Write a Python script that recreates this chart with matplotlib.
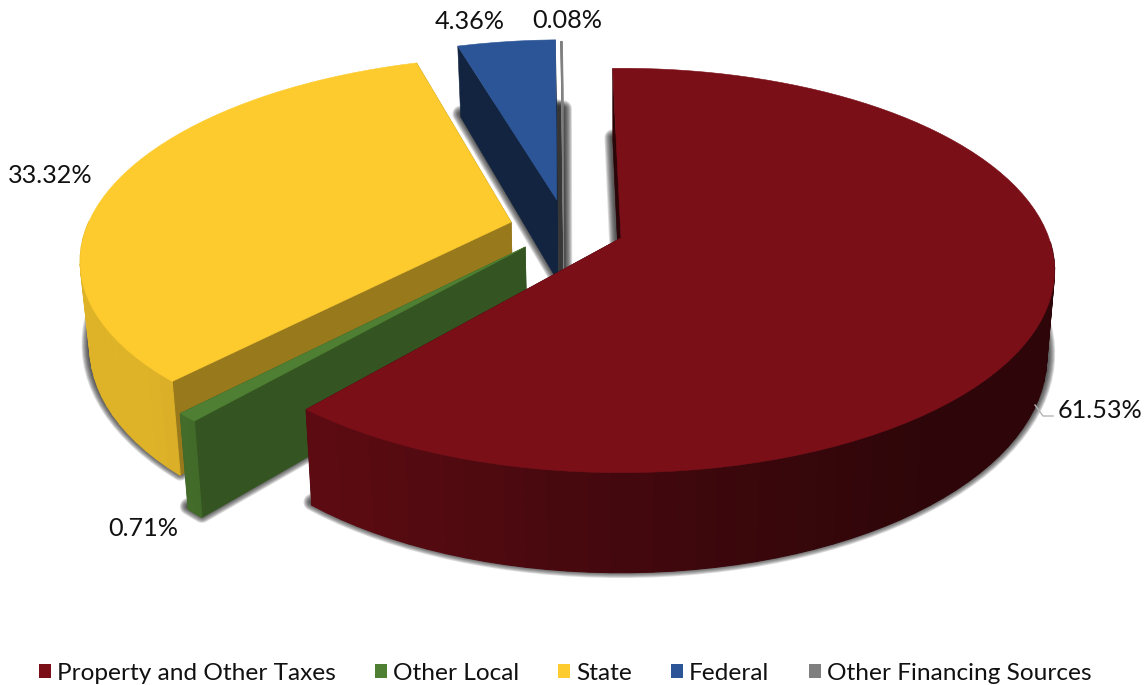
import numpy as np
import matplotlib
matplotlib.use('Agg')
import matplotlib.pyplot as plt
from matplotlib.patches import Patch, Polygon

plt.rcParams['font.family'] = ['Lato', 'DejaVu Sans']

categories = ['Property and Other Taxes', 'Other Local', 'State', 'Federal', 'Other Financing Sources']
shares = [61.53, 0.71, 33.32, 4.36, 0.08]
colors = ['#7A0F18', '#4F7F32', '#FDCB2E', '#2C5597', '#7F7F7F']

# how far each slice is pulled out, in pie radii
pull_x = [0.0, -0.222, -0.26, -0.155, -0.14]
pull_y = [0.0, 0.045, -0.082, -0.20, -0.19]
# darkening of the straight cut walls
cut_shade = [0.35, 0.66, 0.60, 0.42, 1.0]

label_pos = [(1058, 410), (108, 529), (8, 175), (435, 21), (532, 20)]

# pie geometry in pixels
CX, CY = 621, 238
RX, RY = 428, 197
DEPTH = 84
PERSP = 6.23
START = -1.3
SHADOW_LIFT = 3


def project(x, y, z=0.0):
    s = 1 / (1 - y / PERSP)
    return CX + RX * x * s * (1 - 0.018 * z), CY + RY * y * s + DEPTH * s * z


def shade(x):
    # walls get darker towards the right
    return np.interp(x, [-1, -0.65, 0, 0.6, 1], [0.88, 0.77, 0.55, 0.38, 0.38])


def scale_color(color, f):
    return tuple(c * f for c in matplotlib.colors.to_rgb(color))


fig = plt.figure(figsize=(11.48, 6.85), dpi=100)
ax = fig.add_axes([0, 0, 1, 1])
ax.set_xlim(0, 1148)
ax.set_ylim(685, 0)
ax.axis('off')

# slice angles, clockwise from 12 o'clock
edges = START + np.cumsum([0] + shares) * 3.6
slices = []
for i in range(len(shares)):
    t = np.radians(np.linspace(edges[i], edges[i + 1], max(3, int(shares[i] * 1.5))))
    slices.append((pull_x[i] + np.sin(t), pull_y[i] - np.cos(t)))

# soft shadow under the bottom faces
for i, (xs, ys) in enumerate(slices):
    fx = np.r_[pull_x[i], xs]
    fy = np.r_[pull_y[i], ys]
    px, py = project(fx, fy, 1)
    for lw in np.linspace(12, 3, 8):
        ax.add_patch(Polygon(np.c_[px, py - SHADOW_LIFT], closed=True, facecolor='#202020', edgecolor='#202020',
                             lw=lw, alpha=0.15, joinstyle='round', zorder=1))

# back slices first, the big red one goes last
for n, i in enumerate([4, 3, 2, 1, 0]):
    xs, ys = slices[i]
    base = 2 + n
    ox, oy = pull_x[i], pull_y[i]

    # straight walls
    wall = scale_color(colors[i], cut_shade[i])
    for k in [0, -1]:
        x0, y0 = project(ox, oy)
        x1, y1 = project(xs[k], ys[k])
        x2, y2 = project(xs[k], ys[k], 1)
        x3, y3 = project(ox, oy, 1)
        ax.add_patch(Polygon([(x0, y0), (x1, y1), (x2, y2), (x3, y3)], closed=True,
                             facecolor=wall, edgecolor=wall, lw=0.4, zorder=base))

    # rim, one small quad per step so it can carry the gradient
    for k in range(len(xs) - 1):
        # the part of the rim facing away is hidden
        if (ys[k] + ys[k + 1]) / 2 < oy:
            continue
        a = project(xs[k], ys[k])
        b = project(xs[k + 1], ys[k + 1])
        c = project(xs[k + 1], ys[k + 1], 1)
        d = project(xs[k], ys[k], 1)
        col = scale_color(colors[i], shade((xs[k] + xs[k + 1]) / 2))
        ax.add_patch(Polygon([a, b, c, d], closed=True, facecolor=col, edgecolor=col, lw=0.8,
                             zorder=base + 0.1))

    # top face
    px, py = project(np.r_[ox, xs], np.r_[oy, ys])
    ax.add_patch(Polygon(np.c_[px, py], closed=True, facecolor=colors[i], edgecolor=colors[i],
                         lw=0.4, zorder=base + 0.2))

# value labels
for v, (lx, ly) in zip(shares, label_pos):
    ax.text(lx, ly, f'{v:.2f}%', fontsize=18.2, color='#111111', ha='left', va='center', zorder=20)

ax.plot([1035, 1043, 1053], [405, 416, 416], color='#B5B5B5', lw=1, zorder=20)

handles = [Patch(facecolor=c, edgecolor='none', label=name) for c, name in zip(colors, categories)]
fig.legend(handles=handles, loc='center', bbox_to_anchor=(565 / 1148, 1 - 673 / 685), ncol=5,
           frameon=False, fontsize=17.6, handlelength=0.49, handleheight=0.49,
           handletextpad=0.25, columnspacing=1.6, labelcolor='#111111',
           borderpad=0, borderaxespad=0)

plt.savefig('out.png', dpi=100)
